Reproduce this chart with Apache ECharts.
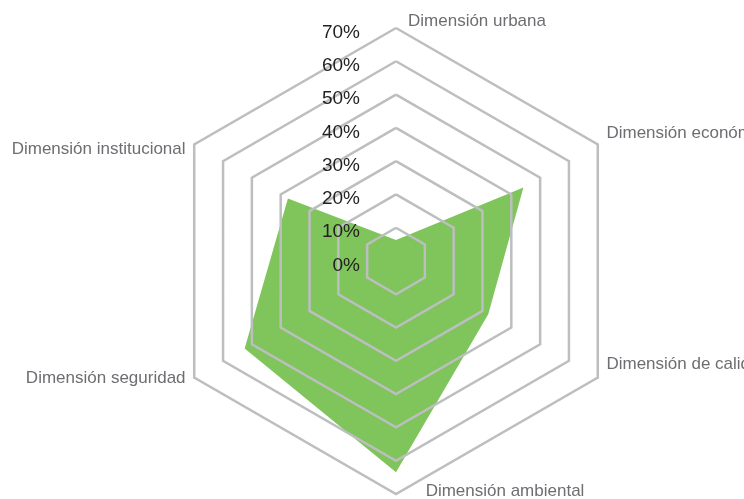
<!DOCTYPE html>
<html>
<head>
<meta charset="utf-8">
<script src="https://cdn.jsdelivr.net/npm/echarts@6/dist/echarts.min.js"></script>
<style>
  html, body { margin: 0; padding: 0; background: #fff; }
  #chart { width: 744px; height: 499px; }
</style>
</head>
<body>
<div id="chart"></div>
<script>
// ejes en sentido antihorario desde arriba (asi los dibuja echarts)
const dimensiones = ['Dimensión urbana', 'Dimensión institucional', 'Dimensión seguridad', 'Dimensión ambiental', 'Dimensión de calidad', 'Dimensión económica']
const valores = [6.3, 37.5, 52.5, 63.5, 32, 44.2]
const maximo = 70
const pasos = 7

// desplazamiento de cada nombre [arriba, derecha, abajo, izquierda]
const margenes = [
  [0, 0, -12, 162],
  [20, 0, 0, 0],
  [0, 0, 8, 0],
  [-25, 0, 0, 218],
  [0, 0, 36, 0],
  [0, 0, 12, 0]
]

const chart = echarts.init(document.getElementById('chart'))

const rich = {}
const indicadores = dimensiones.map((name, i) => {
  rich['n' + i] = { padding: margenes[i], color: '#6d6e71', fontSize: 17, fontFamily: 'Liberation Sans, Arial, sans-serif' }
  const ind = { name: name, min: 0, max: maximo }
  if (i === 0) {
    ind.axisLabel = {
      show: true,
      showMinLabel: true,
      align: 'right',
      margin: 36,
      formatter: v => '{p|' + v + '%}',
      rich: {
        p: { padding: [9, 0, 0, 0], color: '#231f20', fontSize: 19, fontFamily: 'Liberation Sans, Arial, sans-serif' }
      }
    }
  }
  return ind
})

chart.setOption({
  animation: false,
  radar: {
    z: 3,
    center: [396, 261],
    radius: 233,
    startAngle: 90,
    shape: 'polygon',
    splitNumber: pasos,
    indicator: indicadores,
    axisName: {
      formatter: (name, ind) => '{n' + dimensiones.indexOf(name) + '|' + name + '}',
      rich: rich
    },
    nameGap: 10,
    axisLine: { show: false },
    axisTick: { show: false },
    axisLabel: { show: false },
    splitArea: { show: false },
    splitLine: { lineStyle: { color: '#bcbec0', width: 2.5 } }
  },
  series: [{
    type: 'radar',
    z: 2,
    symbol: 'none',
    lineStyle: { width: 0 },
    areaStyle: { color: '#80c45c', opacity: 1 },
    data: [{ value: valores, name: 'Índice' }]
  }]
})
</script>
</body>
</html>
